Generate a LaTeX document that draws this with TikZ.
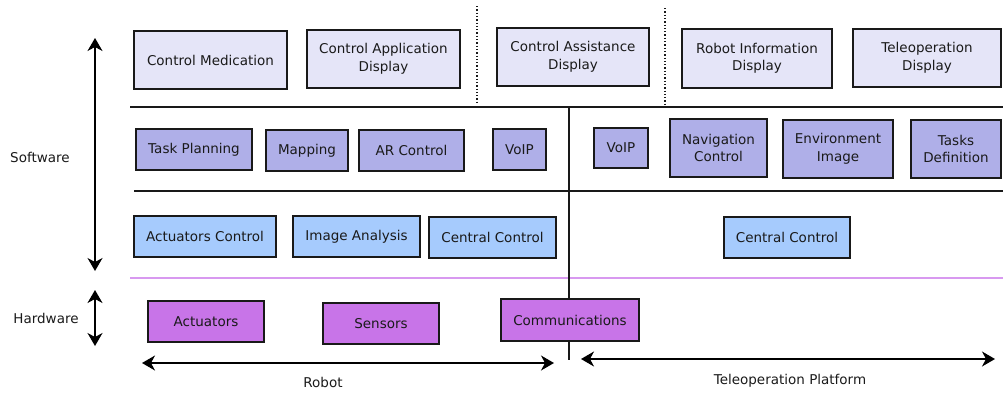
\documentclass[tikz,border=0pt]{standalone}
\usepackage{fontspec}
\setmainfont{DejaVu Sans}
\usetikzlibrary{arrows.meta}
\definecolor{rowa}{HTML}{E5E5F8}
\definecolor{rowb}{HTML}{AFAFE8}
\definecolor{rowc}{HTML}{A6CBFD}
\definecolor{hw}{HTML}{C874E8}
\definecolor{hwline}{HTML}{D899F0}
\definecolor{txt}{HTML}{1A1A1A}
\tikzset{
  box/.style={draw=black!90, line width=1.4pt, inner sep=0pt, align=center, text=txt,
    font=\fontsize{13.5}{17.5}\selectfont},
  ra/.style={box, fill=rowa},
  rb/.style={box, fill=rowb},
  rc/.style={box, fill=rowc},
  rh/.style={box, fill=hw},
  sep/.style={line width=1.3pt, black!90},
  dsep/.style={line width=1.3pt, black!90, dotted},
  dimarrow/.style={line width=1.4pt, {Stealth[length=13pt,width=15pt,inset=4pt]}-{Stealth[length=13pt,width=15pt,inset=4pt]}},
  lbl/.style={text=txt, font=\fontsize{13.5}{15}\selectfont, inner sep=0pt},
}
\begin{document}
\begin{tikzpicture}[x=1pt,y=-1pt]
\useasboundingbox (0,0) rectangle (1003,394);
% separators
\coordinate (h1a) at (130,107); \coordinate (h1b) at (1003,107);
\coordinate (h2a) at (134,191); \coordinate (h2b) at (1003,191);
\coordinate (h3a) at (130,278); \coordinate (h3b) at (1003,278);
\coordinate (v0a) at (569,107); \coordinate (v0b) at (569,360);
\coordinate (d1a) at (477,6); \coordinate (d1b) at (477,104);
\coordinate (d2a) at (665,8); \coordinate (d2b) at (665,104);
\draw[sep] (h1a) -- (h1b);
\draw[sep] (h2a) -- (h2b);
\draw[line width=1.3pt, hwline] (h3a) -- (h3b);
\draw[sep] (v0a) -- (v0b);
\draw[dsep] (d1a) -- (d1b);
\draw[dsep] (d2a) -- (d2b);
% row 1
\node[ra, minimum width=153pt, minimum height=58pt] (cm) at (210.5,60) {Control Medication};
\node[ra, minimum width=153pt, minimum height=58pt] (cad) at (383.5,59) {Control Application\\Display};
\node[ra, minimum width=152pt, minimum height=58pt] (cas) at (573,57) {Control Assistance\\Display};
\node[ra, minimum width=150pt, minimum height=59pt] (rid) at (757,58.5) {Robot Information\\Display};
\node[ra, minimum width=148pt, minimum height=58pt] (td) at (927,58) {Teleoperation\\Display};
% row 2
\node[rb, minimum width=116pt, minimum height=41pt] (tp) at (194,149.5) {Task Planning};
\node[rb, minimum width=82pt, minimum height=41pt] (map) at (307,150.5) {Mapping};
\node[rb, minimum width=105pt, minimum height=41pt] (ar) at (411.5,150.5) {AR Control};
\node[rb, minimum width=53pt, minimum height=41pt] (voipa) at (519.5,149.5) {VoIP};
\node[rb, minimum width=54pt, minimum height=40pt] (voipb) at (621,148) {VoIP};
\node[rb, minimum width=97pt, minimum height=58pt] (nav) at (718.5,148) {Navigation\\Control};
\node[rb, minimum width=110pt, minimum height=58pt] (env) at (838,149) {Environment\\Image};
\node[rb, minimum width=90pt, minimum height=58pt] (tdef) at (956,149) {Tasks\\Definition};
% row 3
\node[rc, minimum width=142pt, minimum height=41pt] (ac) at (205,236.5) {Actuators Control};
\node[rc, minimum width=127pt, minimum height=41pt] (ia) at (356.5,236.5) {Image Analysis};
\node[rc, minimum width=127pt, minimum height=41pt] (cca) at (492.5,237.5) {Central Control};
\node[rc, minimum width=126pt, minimum height=41pt] (ccb) at (787,237.5) {Central Control};
% hardware
\node[rh, minimum width=116pt, minimum height=41pt] (act) at (206,321.5) {Actuators};
\node[rh, minimum width=116pt, minimum height=41pt] (sen) at (381,323.5) {Sensors};
\node[rh, minimum width=138pt, minimum height=42pt] (com) at (570,320) {Communications};
% dimension arrows
\coordinate (swa) at (95,38); \coordinate (swb) at (95,271);
\coordinate (hwa) at (95,290); \coordinate (hwb) at (95,346);
\coordinate (roa) at (142,363); \coordinate (rob) at (554,363);
\coordinate (tpa) at (581,359); \coordinate (tpb) at (995,359);
\draw[dimarrow] (swa) -- (swb);
\draw[dimarrow] (hwa) -- (hwb);
\draw[dimarrow] (roa) -- (rob);
\draw[dimarrow] (tpa) -- (tpb);
% labels
\node[lbl] (lsw) at (40,157) {Software};
\node[lbl] (lhw) at (46,318) {Hardware};
\node[lbl] (lro) at (323,382) {Robot};
\node[lbl] (ltp) at (790,381) {Teleoperation Platform};
\end{tikzpicture}
\end{document}
